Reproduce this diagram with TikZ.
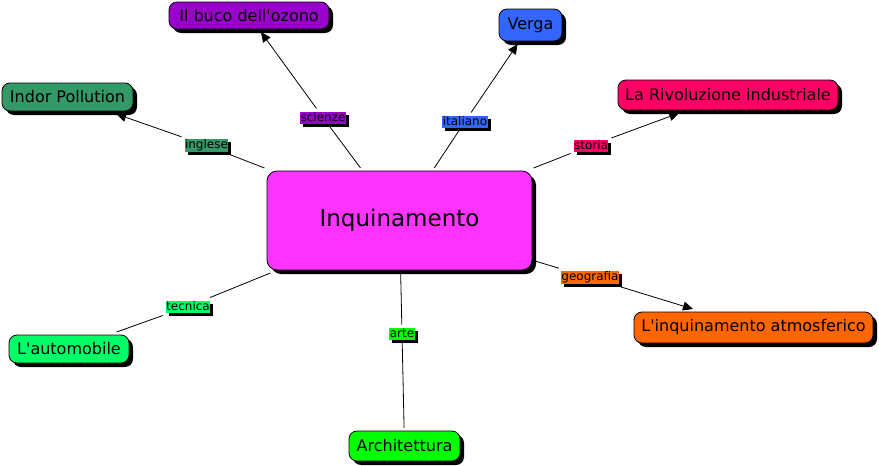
\documentclass[tikz,border=0pt]{standalone}
\usepackage{fontspec}
\setmainfont{DejaVu Sans}
\usetikzlibrary{arrows.meta,shadows}
\definecolor{cmagenta}{HTML}{FF33FF}
\definecolor{cpurple}{HTML}{9900CC}
\definecolor{cblue}{HTML}{3366FF}
\definecolor{cpink}{HTML}{FF0066}
\definecolor{cteal}{HTML}{339966}
\definecolor{cspring}{HTML}{00FF66}
\definecolor{clime}{HTML}{00FF00}
\definecolor{corange}{HTML}{FF6600}
\begin{document}
\begin{tikzpicture}[x=1pt,y=-1pt,>={Triangle[length=10pt,width=9pt]},line width=0.8pt,
 concept/.style={draw,rounded corners=8pt,inner sep=0pt,outer sep=3pt,
   font=\fontsize{16}{18}\selectfont,
   drop shadow={shadow xshift=4pt,shadow yshift=-4pt,opacity=1,fill=black}},
 lab/.style={inner sep=0.5pt,outer sep=3pt,minimum height=12pt,
   font=\fontsize{12}{13}\selectfont,
   drop shadow={shadow xshift=3pt,shadow yshift=-3pt,opacity=1,fill=black}}]
\useasboundingbox (0,0) rectangle (879,466);
\node[concept,fill=cmagenta,rounded corners=10pt,minimum width=265pt,minimum height=99pt,
  font=\fontsize{23}{25}\selectfont] (inq) at (399.5,220.5) {Inquinamento};
\node[concept,fill=cpurple,minimum width=160pt,minimum height=27pt] (ozono) at (249,15.5) {Il buco dell\textquotesingle ozono};
\node[concept,fill=cblue,minimum width=63pt,minimum height=32pt] (verga) at (530.5,25) {Verga};
\node[concept,fill=cpink,minimum width=220pt,minimum height=30pt] (rivol) at (728,95) {La Rivoluzione industriale};
\node[concept,fill=cteal,minimum width=131pt,minimum height=28pt] (indor) at (67.5,97) {Indor Pollution};
\node[concept,fill=cspring,minimum width=120pt,minimum height=28pt] (auto) at (69,349) {L\textquotesingle automobile};
\node[concept,fill=clime,minimum width=111pt,minimum height=30pt] (archi) at (404.5,446) {Architettura};
\node[concept,fill=corange,minimum width=239pt,minimum height=31pt] (atmo) at (753.5,327.5) {L\textquotesingle inquinamento atmosferico};
% link labels
\node[lab,fill=cteal] (lingl) at (206.5,145.5) {inglese};
\node[lab,fill=cpurple] (lsci) at (323,117.5) {scienze};
\node[lab,fill=cblue] (lita) at (465,121.5) {italiano};
\node[lab,fill=cpink] (lsto) at (591,145.5) {storia};
\node[lab,fill=cspring] (ltec) at (188,306.5) {tecnica};
\node[lab,fill=clime] (larte) at (402,333.5) {arte};
\node[lab,fill=corange] (lgeo) at (590,277.5) {geografia};
\draw (inq) -- (lingl); \draw[->] (lingl) -- (indor);
\draw (inq) -- (lsci); \draw[->] (lsci) -- (ozono);
\draw (inq) -- (lita); \draw[->] (lita) -- (verga);
\draw (inq) -- (lsto); \draw[->] (lsto) -- (rivol);
\draw (inq) -- (lgeo); \draw[->] (lgeo) -- (atmo);
\draw (inq) -- (ltec); \draw (ltec) -- (auto);
\draw (inq) -- (larte); \draw (larte) -- (archi);
\end{tikzpicture}
\end{document}
